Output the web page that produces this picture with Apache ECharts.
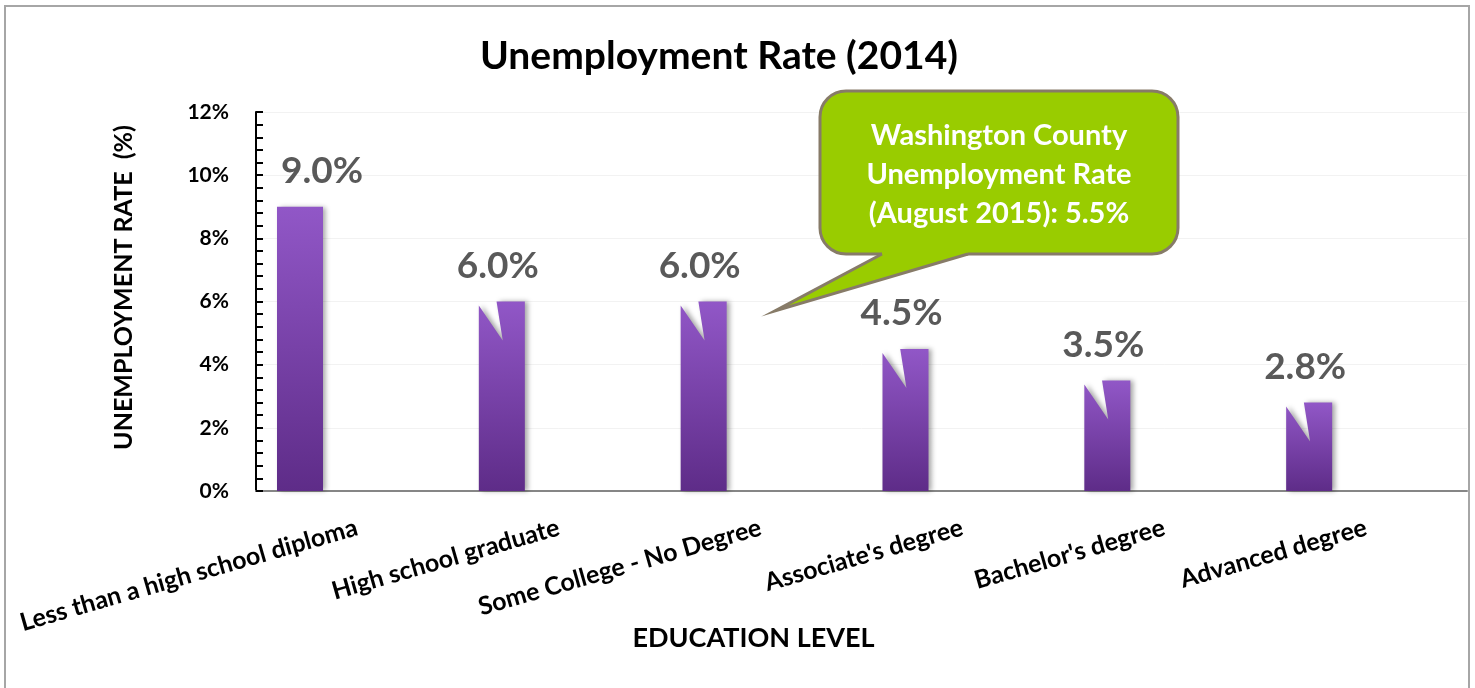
<!DOCTYPE html>
<html>
<head>
<meta charset="utf-8">
<script src="https://cdn.jsdelivr.net/npm/echarts@6/dist/echarts.min.js"></script>
<style>
  html, body { margin: 0; padding: 0; background: #fff; }
  #chart { width: 1475px; height: 688px; }
</style>
</head>
<body>
<div id="chart"></div>
<script>
// education levels and 2014 unemployment rates (%)
const categories = [
  'Less than a high school diploma',
  'High school graduate',
  'Some College - No Degree',
  "Associate's degree",
  "Bachelor's degree",
  'Advanced degree'
]
const rates = [9.0, 6.0, 6.0, 4.5, 3.5, 2.8]
const calloutLines = ['Washington County', 'Unemployment Rate', '(August 2015): 5.5%']

const FONT = 'Lato'
const GREEN = '#99CC00'
const BROWN = '#877B68'
const chart = echarts.init(document.getElementById('chart'))

function renderBar(params, api) {
  const i = api.value(0)
  const v = api.value(1)
  const base = api.coord([i, 0])
  const top = api.coord([i, v])
  const band = api.size([1, 0])[0]
  const w = band * 0.228
  const cx = base[0] - band * 0.282
  const x0 = cx - w / 2
  const x1 = cx + w / 2
  const y0 = top[1]
  const yb = base[1]
  // all bars but the first have the little white notch at the top-left
  const pts = params.dataIndex > 0
    ? [[x0, y0 + 4], [x0 + w * 0.52, y0 + 39], [x0 + w * 0.385, y0], [x1, y0], [x1, yb], [x0, yb]]
    : [[x0, y0], [x1, y0], [x1, yb], [x0, yb]]
  const dx = params.dataIndex === 0 ? 22 : -4
  return {
    type: 'group',
    children: [
      {
        type: 'polygon',
        shape: { points: pts },
        style: {
          fill: new echarts.graphic.LinearGradient(0, 0, 0, 1, [
            { offset: 0, color: '#9157C7' },
            { offset: 1, color: '#5E2C88' }
          ]),
          shadowBlur: 5,
          shadowOffsetX: 3,
          shadowOffsetY: 0,
          shadowColor: 'rgba(0,0,0,0.35)'
        }
      },
      {
        type: 'text',
        x: cx + dx,
        y: y0 - 17,
        style: {
          text: v.toFixed(1) + '%',
          fill: '#595959',
          font: 'bold 37px ' + FONT,
          align: 'center',
          verticalAlign: 'bottom'
        }
      }
    ]
  }
}

chart.setOption({
  backgroundColor: '#fff',
  animation: false,
  title: {
    text: 'Unemployment Rate (2014)',
    left: 714,
    top: 32,
    textAlign: 'center',
    textStyle: { fontFamily: FONT, fontWeight: 'bold', fontSize: 39, color: '#000' }
  },
  grid: { left: 256, right: 8, top: 112, bottom: 197, containLabel: false },
  xAxis: {
    type: 'category',
    data: categories,
    name: 'EDUCATION LEVEL',
    nameLocation: 'middle',
    nameGap: 134,
    nameMoveOverlap: false,
    nameTextStyle: {
      fontFamily: FONT, fontWeight: 'bold', fontSize: 27, color: '#000',
      padding: [0, 216, 0, 0]
    },
    axisLine: { lineStyle: { color: '#868686', width: 2 } },
    axisTick: { show: false },
    axisLabel: {
      interval: 0,
      rotate: 16,
      margin: 36,
      fontFamily: FONT, fontWeight: 'bold', fontSize: 25, color: '#000'
    }
  },
  yAxis: {
    type: 'value',
    min: 0,
    max: 12,
    interval: 2,
    name: 'UNEMPLOYMENT RATE  (%)',
    nameLocation: 'middle',
    nameGap: 120,
    nameTextStyle: {
      fontFamily: FONT, fontWeight: 'bold', fontSize: 25, color: '#000',
      padding: [0, 0, 0, 28]
    },
    axisLine: { show: true, lineStyle: { color: '#000', width: 2 } },
    axisTick: { show: true, inside: true, length: 7, lineStyle: { color: '#000', width: 2 } },
    minorTick: { show: true, splitNumber: 5, length: 7, lineStyle: { color: '#000', width: 2 } },
    splitLine: { show: true, lineStyle: { color: '#F2F2F2', width: 1 } },
    axisLabel: {
      formatter: '{value}%',
      margin: 27,
      fontFamily: FONT, fontWeight: 'bold', fontSize: 21, color: '#000'
    }
  },
  series: [{
    type: 'custom',
    renderItem: renderBar,
    encode: { x: 0, y: 1 },
    data: rates.map((v, i) => [i, v]),
    z: 3
  }],
  graphic: [
    {
      type: 'rect',
      shape: { x: 5, y: 6, width: 1464, height: 720 },
      style: { fill: 'none', stroke: '#A6A6A6', lineWidth: 2 },
      silent: true
    },
    {
      type: 'rect',
      shape: { x: 820, y: 91, width: 358, height: 163, r: 26 },
      style: { fill: GREEN, stroke: BROWN, lineWidth: 3 },
      z: 10
    },
    {
      type: 'polygon',
      shape: { points: [[882, 248], [968, 248], [968, 254], [775, 311], [882, 254]] },
      style: { fill: GREEN },
      z: 11
    },
    {
      type: 'polyline',
      shape: { points: [[882, 254], [775, 311], [968, 254]] },
      style: { fill: 'none', stroke: BROWN, lineWidth: 3, lineJoin: 'miter' },
      z: 12
    },
    {
      type: 'text',
      x: 999, y: 175,
      style: {
        text: calloutLines.join('\n'),
        fill: '#fff',
        font: 'bold 29px ' + FONT,
        lineHeight: 39,
        align: 'center',
        verticalAlign: 'middle'
      },
      z: 13
    }
  ]
})
</script>
</body>
</html>
